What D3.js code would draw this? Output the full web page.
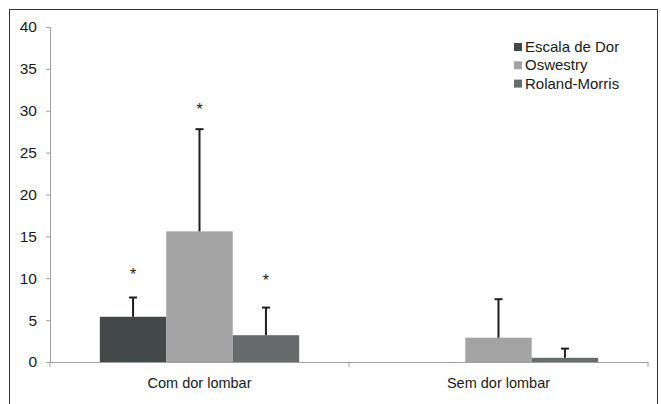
<!DOCTYPE html>
<html>
<head>
<meta charset="utf-8">
<script src="https://cdn.jsdelivr.net/npm/d3@7"></script>
<style>
  body { margin: 0; background: #fff; }
  text { font-family: "Liberation Sans", Arial, sans-serif; fill: #1a1a1a; }
</style>
</head>
<body>
<div id="chart"></div>
<script>
// Data
var categories = ["Com dor lombar", "Sem dor lombar"];
var seriesNames = ["Escala de Dor", "Oswestry", "Roland-Morris"];
var seriesColors = ["#434948", "#a3a3a3", "#676b6b"];
var meanValues = [
    [5.4, 15.6, 3.2],
    [0, 2.9, 0.5]
];
var errorTops = [
    [7.7, 27.8, 6.5],
    [null, 7.5, 1.6]
];
// level of the significance marks (null = none)
var starLevels = [
    [10.9, 30.6, 10.2],
    [null, null, null]
];
var yTicks = [0, 5, 10, 15, 20, 25, 30, 35, 40];

var svgWidth = 661;
var svgHeight = 404;

var margin = { top: 27, bottom: 42, left: 50, right: 13 };
var width = svgWidth - margin.left - margin.right;
var height = svgHeight - margin.top - margin.bottom;

var svg = d3.select("#chart")
    .append("svg")
    .attr("width", svgWidth)
    .attr("height", svgHeight);

// outer frame
svg.append("rect")
    .attr("x", 9.5)
    .attr("y", 9.5)
    .attr("width", 648)
    .attr("height", 400)
    .attr("fill", "none")
    .attr("stroke", "#333")
    .attr("stroke-width", 1);

var chartGroup = svg.append("g")
    .attr("transform", `translate(${margin.left}, ${margin.top})`);

// Scales
var x0 = d3.scaleBand()
    .domain(categories)
    .range([0, width]);

var x1 = d3.scaleBand()
    .domain(seriesNames)
    .range([0, x0.bandwidth()])
    .paddingOuter(0.75);

var y = d3.scaleLinear()
    .domain([0, 40])
    .range([height, 0]);

// Y axis
var leftAxis = d3.axisLeft(y).tickValues(yTicks).tickSize(4).tickPadding(9);
var yAxis = chartGroup.append("g").call(leftAxis);
yAxis.select(".domain").attr("stroke", "#a0a0a0");
yAxis.selectAll(".tick line").attr("stroke", "#a0a0a0");
yAxis.selectAll(".tick text").style("font-size", "15.5px").attr("fill", "#1a1a1a");

// Bars
var groups = chartGroup.selectAll(".cat")
    .data(categories)
    .enter()
    .append("g")
    .attr("transform", d => `translate(${x0(d)}, 0)`);

groups.each(function (cat, ci) {
    var g = d3.select(this);
    seriesNames.forEach(function (s, si) {
        var v = meanValues[ci][si];
        var bx = x1(s);
        var cx = bx + x1.bandwidth() / 2;
        if (v > 0) {
            g.append("rect")
                .attr("x", bx)
                .attr("y", y(v))
                .attr("width", x1.bandwidth())
                .attr("height", height - y(v))
                .attr("fill", seriesColors[si]);
        }
        var top = errorTops[ci][si];
        if (top !== null) {
            g.append("line")
                .attr("x1", cx).attr("x2", cx)
                .attr("y1", y(v)).attr("y2", y(top))
                .attr("stroke", "#1e1e1e")
                .attr("stroke-width", 2);
            g.append("line")
                .attr("x1", cx - 4).attr("x2", cx + 4)
                .attr("y1", y(top)).attr("y2", y(top))
                .attr("stroke", "#1e1e1e")
                .attr("stroke-width", 2);
        }
        var star = starLevels[ci][si];
        if (star !== null) {
            g.append("text")
                .attr("x", cx)
                .attr("y", y(star) + 9)
                .attr("text-anchor", "middle")
                .style("font-size", "16px")
                .attr("fill", "#555")
                .text("*");
        }
    });
});

// X axis
var bottomAxis = d3.axisBottom(x0).tickSize(0).tickPadding(16);
var xAxis = chartGroup.append("g")
    .attr("transform", `translate(0, ${height})`)
    .call(bottomAxis);
xAxis.select(".domain").attr("stroke", "#a0a0a0");
xAxis.selectAll(".tick text").style("font-size", "14.5px").attr("fill", "#1a1a1a");

// category separator ticks
chartGroup.selectAll(".sep")
    .data([0, x0.bandwidth(), width])
    .enter()
    .append("line")
    .attr("x1", d => d).attr("x2", d => d)
    .attr("y1", height).attr("y2", height + 5)
    .attr("stroke", "#a0a0a0");

// Legend
var legend = svg.append("g")
    .attr("transform", "translate(514, 41)");

seriesNames.forEach(function (s, i) {
    legend.append("rect")
        .attr("x", 0)
        .attr("y", i * 18.3 + 2)
        .attr("width", 8)
        .attr("height", 8)
        .attr("fill", seriesColors[i]);
    legend.append("text")
        .attr("x", 11)
        .attr("y", i * 18.3 + 11)
        .style("font-size", "15px")
        .text(s);
});
</script>
</body>
</html>
